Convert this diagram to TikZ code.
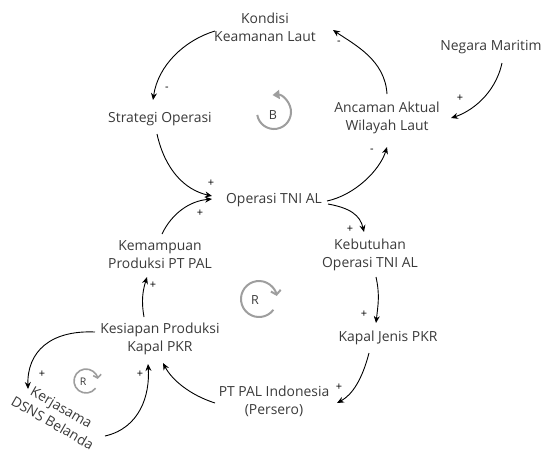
\documentclass[tikz,border=0pt]{standalone}
\usepackage{fontspec}
\setmainfont{Open Sans}
\usepackage{tikz}
\usetikzlibrary{calc}
\usetikzlibrary{arrows.meta}
\definecolor{txtgray}{HTML}{3A3A3A}
\definecolor{loopgray}{HTML}{9E9E9E}
\tikzset{
    var/.style={text=txtgray, align=center, inner sep=0pt, font=\fontsize{13.9}{18}\selectfont},
    link/.style={-{Stealth[length=7pt,width=6pt]}, line width=0.9pt},
    sign/.style={inner sep=0pt, font=\fontsize{11}{11}\selectfont},
    looparc/.style={loopgray, line width=2pt},
    looplbl/.style={text=txtgray, inner sep=0pt, font=\fontsize{12.5}{12.5}\selectfont}
}

\begin{document}
\begin{tikzpicture}[x=1pt, y=-1pt]
    \useasboundingbox (0,0) rectangle (560,451);
    % variables
    \node[var] (kondisi) at (265,27) {Kondisi\\Keamanan Laut};
    \node[var] (negara) at (491,47) {Negara Maritim};
    \node[var] (strategi) at (160,119) {Strategi Operasi};
    \node[var] (ancaman) at (387,118) {Ancaman Aktual\\Wilayah Laut};
    \node[var] (operasi) at (274,200) {Operasi TNI AL};
    \node[var] (kemampuan) at (160,255) {Kemampuan\\Produksi PT PAL};
    \node[var] (kebutuhan) at (370,255) {Kebutuhan\\Operasi TNI AL};
    \node[var] (kesiapan) at (160,339) {Kesiapan Produksi\\Kapal PKR};
    \node[var] (kapal) at (388,338) {Kapal Jenis PKR};
    \node[var] (ptpal) at (274,401) {PT PAL Indonesia\\(Persero)};
    \node[var, rotate=-30] (kerjasama) at (57,415) {Kerjasama\\DSNS Belanda};
    % links
    \draw[link] ($(ancaman)+(0,-24)$) .. controls +(-2,-34) and +(22,15) .. ($(kondisi)+(68,3)$);
    \draw[link] ($(kondisi)+(-50,4)$) .. controls +(-30,9) and +(5,-35) .. ($(strategi)+(-7,-19)$);
    \draw[link] ($(strategi)+(-3,15)$) .. controls +(8,36) and +(-27,-6) .. ($(operasi)+(-62,-4)$);
    \draw[link] ($(kemampuan)+(2,-21)$) .. controls +(10,-21) and +(-22,2) .. ($(operasi)+(-62,-1)$);
    \draw[link] ($(operasi)+(53,1)$) .. controls +(28,-6) and +(-7,23) .. ($(ancaman)+(0,29)$);
    \draw[link] ($(operasi)+(54,4)$) .. controls +(22,4) and +(-4,-17) .. ($(kebutuhan)+(-6,-23)$);
    \draw[link] ($(negara)+(11,16)$) .. controls +(-7,32) and +(19,-6) .. ($(ancaman)+(64,0)$);
    \draw[link] ($(kebutuhan)+(6,22)$) .. controls +(4,18) and +(2,-18) .. ($(kapal)+(-12,-15)$);
    \draw[link] ($(kapal)+(-19,15)$) .. controls +(-7,27) and +(15,-8) .. ($(ptpal)+(63,2)$);
    \draw[link] ($(ptpal)+(-59,2)$) .. controls +(-25,-8) and +(9,17) .. ($(kesiapan)+(3,24)$);
    \draw[link] ($(kesiapan)+(-16,-22)$) .. controls +(-3,-17) and +(-4,13) .. ($(kemampuan)+(-13,22)$);
    \draw[link] ($(kesiapan)+(-65,-7)$) .. controls +(-45,-2) and +(-1,-37) .. ($(kerjasama)+(-29,-26)$);
    \draw[link] ($(kerjasama)+(48,21)$) .. controls +(35,-8) and +(2,31) .. ($(kesiapan)+(-12,25)$);
    % polarities
    \node[sign] at (339,43) {-};
    \node[sign] at (167,89) {-};
    \node[sign] at (211,183) {+};
    \node[sign] at (200,213) {+};
    \node[sign] at (372,151) {-};
    \node[sign] at (350,229) {+};
    \node[sign] at (460,98) {+};
    \node[sign] at (364,314) {+};
    \node[sign] at (339,387) {+};
    \node[sign] at (153,285) {+};
    \node[sign] at (42,374) {+};
    \node[sign] at (140,374) {+};
    % loops
    \node[looplbl] (bloop) at (273,115) {B};
    \draw[looparc, -{Triangle[length=7pt,width=9pt]}] ($(bloop)+(1,-3)$) ++(190:17pt) arc[start angle=190, end angle=455, radius=17pt];
    \node[looplbl] (rloop) at (255,300) {R};
    \draw[looparc, -{Straight Barb[length=4pt,width=10pt]}] ($(rloop)+(4,-1)$) ++(-37:18pt) arc[start angle=-37, end angle=-350, radius=18pt];
    \node[looplbl, font=\fontsize{10.5}{10.5}\selectfont] (rsmall) at (83,382) {R};
    \draw[looparc, line width=1.6pt, -{Straight Barb[length=3pt,width=8pt]}] ($(rsmall)+(3,-1)$) ++(-37:12pt) arc[start angle=-37, end angle=-350, radius=12pt];
\end{tikzpicture}
\end{document}
